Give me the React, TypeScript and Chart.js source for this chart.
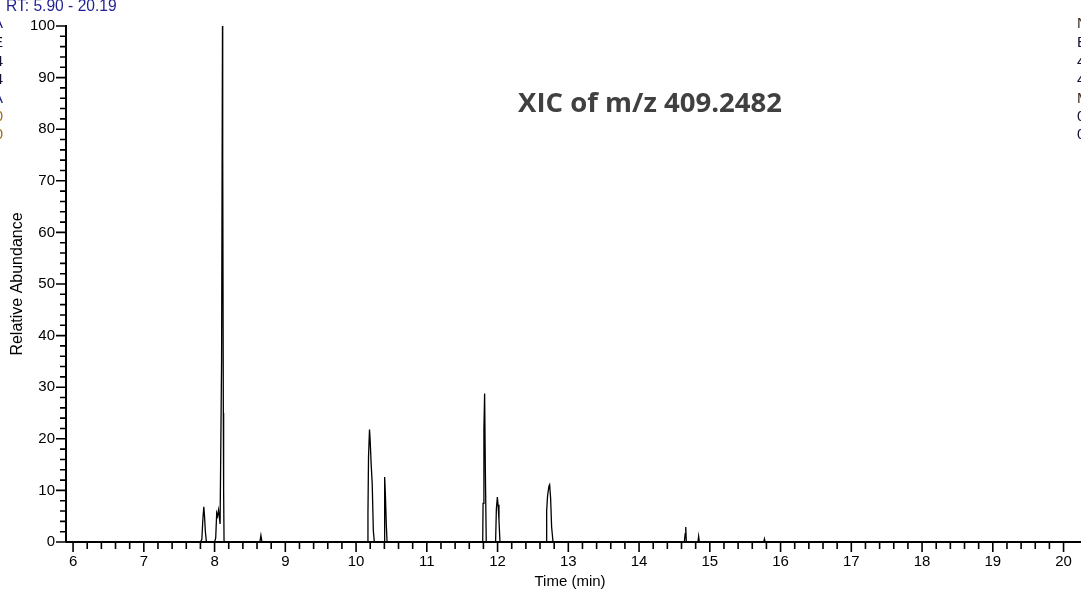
import React, { useEffect, useRef } from "react";
import { Chart, registerables } from "chart.js";

Chart.register(...registerables);

// ---- data ----
const rtMinutes: number[] = [
  5.9, 7.8, 7.82, 7.835, 7.848, 7.858, 7.87, 7.885,
  8.0, 8.016, 8.03, 8.042, 8.056, 8.078, 8.099, 8.112, 8.115, 8.124, 8.128, 8.134,
  8.64, 8.655, 8.67,
  10.16, 10.168, 10.176, 10.19, 10.2, 10.214, 10.228, 10.244, 10.258,
  10.395, 10.404, 10.414, 10.428, 10.438,
  11.79, 11.795, 11.807, 11.817, 11.827, 11.84,
  11.972, 11.983, 11.997, 12.007, 12.02, 12.034,
  12.688, 12.694, 12.707, 12.726, 12.736, 12.75, 12.764, 12.784,
  14.64, 14.652, 14.66, 14.668,
  14.832, 14.842, 14.852,
  15.762, 15.772, 15.782,
  20.19,
];
const relAbundance: number[] = [
  0, 0, 0.5, 4.5, 6.8, 5.0, 2.0, 0,
  0, 0.8, 5.6, 5.0, 6.2, 3.5, 35, 100, 75, 25, 10, 0,
  0, 1.3, 0,
  0, 5.5, 16.5, 21.8, 19.4, 14.9, 11.4, 2.2, 0,
  0, 12.6, 9.4, 3.2, 0,
  0, 7.5, 21.7, 28.8, 14.3, 0,
  0, 6.4, 8.7, 7.2, 4.2, 0,
  0, 6.1, 9.0, 10.8, 11.1, 8.4, 2.9, 0,
  0, 1.6, 2.9, 0,
  0, 1.1, 0,
  0, 0.6, 0,
  0,
];

const xMajorTicks: number[] = [6, 7, 8, 9, 10, 11, 12, 13, 14, 15, 16, 17, 18, 19, 20];
const yMajorTicks: number[] = [0, 10, 20, 30, 40, 50, 60, 70, 80, 90, 100];
const xRange: number[] = [5.9, 20.19];
const yRange: number[] = [0, 100];
const xMinorStep = 0.2;
const yMinorStep = 2;

const titleText = "XIC of m/z 409.2482";
const rangeText = "RT: 5.90 - 20.19";
const xAxisTitle = "Time (min)";
const yAxisTitle = "Relative Abundance";
const leftCutLines: string[] = ["NA", "BE", "44", "44", "MA", "00", "00"];
const rightCutLines: string[] = ["NL: 4.39E6", "Base Peak", "409.2460", "409.2504", "MS", "0", "0"];

const W = 1081;
const H = 599;
const FONT = "'Liberation Sans', Arial, sans-serif";

const axesPlugin = {
  id: "xcaliburAxes",
  afterDraw(chart: any) {
    const ctx: CanvasRenderingContext2D = chart.ctx;
    const xs = chart.scales.x;
    const ys = chart.scales.y;
    const area = chart.chartArea;
    ctx.save();
    ctx.strokeStyle = "#000";
    ctx.fillStyle = "#000";

    // axis lines
    ctx.lineWidth = 2;
    ctx.beginPath();
    ctx.moveTo(area.left, area.bottom);
    ctx.lineTo(W, area.bottom);
    ctx.moveTo(area.left, area.bottom);
    ctx.lineTo(area.left, area.top - 1);
    ctx.stroke();

    // x ticks
    ctx.lineWidth = 1.6;
    ctx.beginPath();
    const xMin = xRange[0];
    const xMax = xRange[1];
    for (let v = Math.ceil(xMin / xMinorStep) * xMinorStep; v <= xMax + 1e-9; v += xMinorStep) {
      const rv = Math.round(v * 10) / 10;
      const isMajor = Math.abs(rv - Math.round(rv)) < 1e-6;
      const px = xs.getPixelForValue(rv);
      if (px <= area.left + 1) continue;
      ctx.moveTo(px, area.bottom);
      ctx.lineTo(px, area.bottom + (isMajor ? 10 : 7));
    }
    // y ticks
    for (let v = yRange[0]; v <= yRange[1] + 1e-9; v += yMinorStep) {
      const isMajor = v % 10 === 0;
      const py = ys.getPixelForValue(v);
      ctx.moveTo(area.left, py);
      ctx.lineTo(area.left - (isMajor ? 10 : 6), py);
    }
    ctx.stroke();

    // tick labels
    ctx.font = `15px ${FONT}`;
    ctx.textAlign = "center";
    ctx.textBaseline = "middle";
    xMajorTicks.forEach((t) => {
      ctx.fillText(String(t), xs.getPixelForValue(t), area.bottom + 20);
    });
    ctx.textAlign = "right";
    yMajorTicks.forEach((t) => {
      ctx.fillText(String(t), area.left - 11, ys.getPixelForValue(t));
    });

    // axis titles
    ctx.textAlign = "center";
    ctx.font = `15px ${FONT}`;
    ctx.fillText(xAxisTitle, 570, 582);
    ctx.save();
    ctx.translate(18, 284);
    ctx.rotate(-Math.PI / 2);
    ctx.font = `16px ${FONT}`;
    ctx.fillText(yAxisTitle, 0, 0);
    ctx.restore();

    // header
    ctx.textAlign = "left";
    ctx.font = `15.6px ${FONT}`;
    ctx.fillStyle = "#1f1f95";
    ctx.fillText(rangeText, 6, 7);

    // cut-off neighbour labels
    ctx.font = `15px ${FONT}`;
    const rowY = [24, 43, 62, 80, 99, 117, 135];
    ctx.textAlign = "right";
    leftCutLines.forEach((s, i) => {
      ctx.fillStyle = i >= 5 ? "#a06a10" : i === 0 || i === 4 ? "#20208a" : "#101030";
      ctx.fillText(s, 3, rowY[i]);
    });
    ctx.textAlign = "left";
    rightCutLines.forEach((s, i) => {
      ctx.fillStyle = i === 0 || i === 4 ? "#3a2a20" : "#101030";
      ctx.fillText(s, 1077, rowY[i]);
    });

    // chart title
    ctx.fillStyle = "#404040";
    ctx.textAlign = "center";
    ctx.font = `700 27.5px 'Open Sans', sans-serif`;
    ctx.fillText(titleText, 650, 104);

    ctx.restore();
  },
};

export default function App() {
  const canvasRef = useRef<HTMLCanvasElement | null>(null);

  useEffect(() => {
    if (!canvasRef.current) return;
    const points = rtMinutes.map((t, i) => ({ x: t, y: relAbundance[i] }));
    const chart = new Chart(canvasRef.current, {
      type: "line",
      data: {
        datasets: [
          {
            data: points,
            borderColor: "#000",
            borderWidth: 1.3,
            pointRadius: 0,
            tension: 0,
            fill: false,
            clip: false as any,
          },
        ],
      },
      options: {
        animation: false,
        responsive: false,
        events: [],
        layout: { padding: { left: 66, right: 4, top: 26, bottom: 57 } },
        plugins: { legend: { display: false }, tooltip: { enabled: false }, title: { display: false } },
        scales: {
          x: { type: "linear", min: xRange[0], max: xRange[1], display: false },
          y: { type: "linear", min: yRange[0], max: yRange[1], display: false },
        },
      },
      plugins: [axesPlugin],
    });
    return () => chart.destroy();
  }, []);

  return (
    <div style={{ position: "absolute", left: 0, top: 0, width: W, height: H, background: "#fff" }}>
      <canvas ref={canvasRef} width={W} height={H} style={{ width: W, height: H }} />
    </div>
  );
}
